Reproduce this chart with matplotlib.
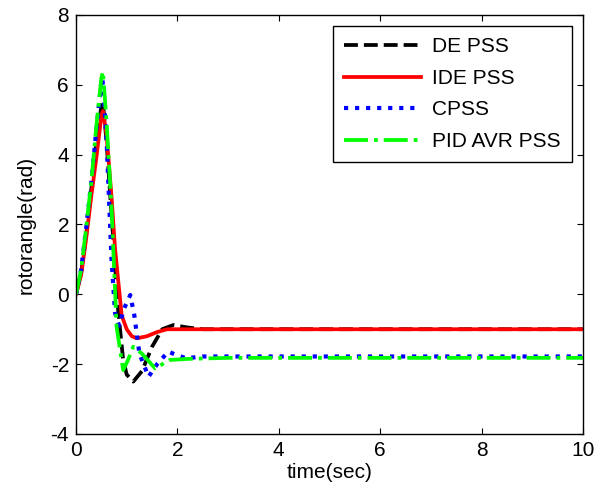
import matplotlib
matplotlib.use('Agg')
from matplotlib import pyplot as plt

# DE PSS
t_de = [0, 0.1, 0.2, 0.3, 0.4, 0.5, 0.53, 0.6, 0.7, 0.83, 0.93, 1.0, 1.13, 1.3, 1.5, 1.7, 1.92, 2.2, 2.5, 10]
y_de = [0, 0.6, 1.7, 3.0, 4.3, 5.4, 5.5, 4.4, 2.3, -0.45, -1.88, -2.3, -2.5, -2.2, -1.5, -1.0, -0.88, -0.95, -1.0, -1.0]

# IDE PSS
t_ide = [0, 0.1, 0.2, 0.3, 0.4, 0.5, 0.53, 0.6, 0.7, 0.77, 0.9, 1.0, 1.1, 1.2, 1.4, 1.6, 1.8, 2.0, 3, 10]
y_ide = [0, 0.55, 1.6, 2.8, 3.9, 5.1, 5.25, 4.6, 2.8, 1.3, -0.6, -1.0, -1.2, -1.26, -1.2, -1.08, -1.0, -1.0, -1.0, -1.0]

# CPSS
t_cpss = [0, 0.1, 0.2, 0.3, 0.4, 0.5, 0.52, 0.6, 0.7, 0.77, 0.85, 0.95, 1.07, 1.15, 1.25, 1.43, 1.6, 1.82, 2.0, 2.18, 2.5, 10]
y_cpss = [0, 0.7, 1.9, 3.2, 4.7, 6.1, 6.2, 4.5, 1.0, -0.54, -0.9, -0.4, -0.02, -0.6, -1.7, -2.36, -2.0, -1.64, -1.75, -1.83, -1.78, -1.78]

# PID AVR PSS
t_pid = [0, 0.1, 0.2, 0.3, 0.4, 0.5, 0.53, 0.6, 0.7, 0.8, 0.93, 1.02, 1.13, 1.3, 1.56, 1.85, 2.2, 3, 10]
y_pid = [0, 0.7, 1.9, 3.2, 4.8, 6.2, 6.38, 5.0, 2.5, -0.93, -2.17, -1.9, -1.5, -1.7, -2.12, -1.88, -1.85, -1.82, -1.82]

x_ticks = [0, 2, 4, 6, 8, 10]
y_ticks = [-4, -2, 0, 2, 4, 6, 8]

plt.rcParams['font.family'] = ['Liberation Sans', 'DejaVu Sans']
plt.rcParams['font.size'] = 15
plt.rcParams['axes.unicode_minus'] = False

fig = plt.figure(figsize=(6.01, 4.99), dpi=100)
ax = fig.add_axes([0.1265, 0.1303, 0.8435, 0.8397])

ax.plot(t_de, y_de, '--', color='k', linewidth=2.7, label='DE PSS')
ax.plot(t_ide, y_ide, '-', color='r', linewidth=2.7, label='IDE PSS')
ax.plot(t_cpss, y_cpss, ':', color='b', linewidth=3.0, label='CPSS')
ax.plot(t_pid, y_pid, '-.', color='#00ff00', linewidth=2.7, label='PID AVR PSS')

ax.set_xlim(0, 10)
ax.set_ylim(-4, 8)
ax.set_xticks(x_ticks)
ax.set_yticks(y_ticks)
ax.tick_params(direction='in', top=True, right=True, length=4, width=0.8, pad=5)
for s in ax.spines.values():
    s.set_linewidth(1.0)

ax.set_xlabel('time(sec)', labelpad=2)
ax.set_ylabel('rotorangle(rad)', labelpad=11)

leg = ax.legend(loc='upper right', bbox_to_anchor=(0.978, 0.974), borderaxespad=0,
                fancybox=False, edgecolor='k', framealpha=1, handlelength=3.7,
                borderpad=0.55, labelspacing=0.6, handletextpad=0.5)
leg.get_frame().set_linewidth(1.0)

fig.savefig('out.png', dpi=100)
